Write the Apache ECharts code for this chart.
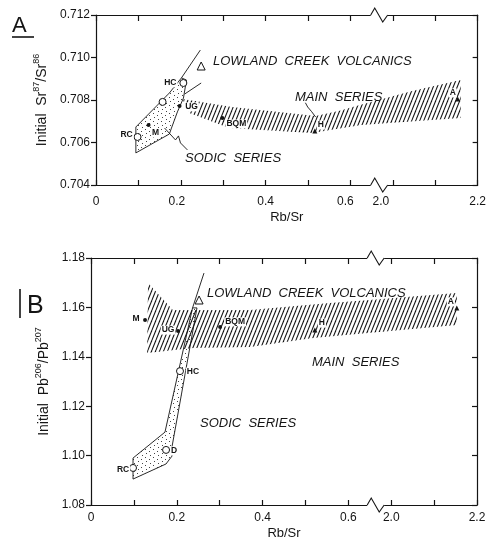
<!DOCTYPE html>
<html>
<head>
<meta charset="utf-8">
<script src="https://cdn.jsdelivr.net/npm/echarts@6/dist/echarts.min.js"></script>
<style>
html, body { margin: 0; padding: 0; background: #fff; }
#main { width: 489px; height: 545px; }
</style>
</head>
<body>
<div id="main"></div>
<script>
// ---- data (x = Rb/Sr, y = initial isotope ratio) ----
// x axis is broken between 0.65 and 2.0
var xLabelValues = [0, 0.2, 0.4, 0.6, 2.0, 2.2];

// panel A : Sr87/Sr86
var openNamesA = ['RC', '', 'HC'];
var openPtsA = [[0.098, 0.70626], [0.157, 0.70791], [0.206, 0.70880]];
var dotNamesA = ['M', 'UG', 'BQM'];
var dotPtsA = [[0.124, 0.70682], [0.197, 0.70772], [0.298, 0.70715]];
var triNamesA = ['H', 'A'];
var triPtsA = [[0.516, 0.70654], [2.153, 0.70805]];
var lcvPtA = [[0.248, 0.70960]];
var sodicA = [[0.094, 0.70551], [0.094, 0.70673], [0.173, 0.70833], [0.2015, 0.70904], [0.2133, 0.70894],
              [0.2062, 0.70809], [0.192, 0.70744], [0.178, 0.70668], [0.173, 0.70640]];
var sodicArmLongA = [[0.2015, 0.70904], [0.246, 0.71035]];
var sodicArmShortA = [[0.209, 0.70828], [0.248, 0.70880]];
var mainUpperA = [[0.204, 0.70805], [0.321, 0.70767], [0.431, 0.70744], [0.518, 0.70725], [0.572, 0.70748],
                  [0.62, 0.70775], [2.05, 0.70845], [2.16, 0.70894]];
var mainLowerA = [[2.16, 0.70715], [2.05, 0.70700], [0.626, 0.70682], [0.509, 0.70645], [0.431, 0.70654],
                  [0.314, 0.70668], [0.22, 0.70739]];
var sodicLeadA = [[0.1617, 0.70668], [0.1875, 0.70612], [0.1945, 0.70631], [0.1992, 0.70598], [0.2156, 0.70565]];
var mainLeadA = [[0.4938, 0.70787], [0.4992, 0.70767], [0.5039, 0.70768], [0.5086, 0.70745], [0.5179, 0.70720]];

// panel B : Pb206/Pb207
var openNamesB = ['RC', 'D', 'HC'];
var openPtsB = [[0.098, 1.0950], [0.175, 1.1023], [0.2075, 1.1342]];
var dotNamesB = ['M', 'UG', 'BQM'];
var dotPtsB = [[0.126, 1.1549], [0.203, 1.1504], [0.301, 1.1521]];
var triNamesB = ['H', 'A'];
var triPtsB = [[0.522, 1.1508], [2.153, 1.1598]];
var lcvPtB = [[0.252, 1.1630]];
var sodicB = [[0.098, 1.0905], [0.098, 1.0990], [0.1725, 1.1095], [0.2368, 1.1598], [0.2471, 1.1598],
              [0.1888, 1.1035], [0.1888, 1.0998], [0.1748, 1.0966]];
var sodicArmB = [[0.2368, 1.1598], [0.2634, 1.1739]];
var mainUpperB = [[0.133, 1.1699], [0.191, 1.1589], [0.371, 1.1589], [0.557, 1.1618], [0.62, 1.1626],
                  [2.05, 1.1644], [2.153, 1.1658]];
var mainLowerB = [[2.153, 1.1529], [2.05, 1.1513], [0.62, 1.1492], [0.518, 1.1476], [0.371, 1.1440],
                  [0.238, 1.1436], [0.131, 1.1415]];

// ---- styling / layout ----
var FONT = "'Liberation Sans', Arial, sans-serif";
var INK = '#141414';
var X_MAX = 0.9;
var gridA = {left: 96, top: 15, width: 384, height: 170};
var gridB = {left: 91, top: 258, width: 386, height: 247};

var labelShiftA = {RC: [-11, -2], HC: [-13, 0], M: [7, 8], UG: [12, 1], BQM: [14, 6], H: [6, -6], A: [-5, -6]};
var labelShiftB = {RC: [-10, 2], D: [8, 1], HC: [13, 1], M: [-9, -1], UG: [-10, -1], BQM: [15, -5], H: [7, -7], A: [-6, -6]};
var xLabelNudgeA = {'0.2': -4, '0.6': -5, '2.0': -12};

// break: 0..0.65 linear, 0.65..2.0 squeezed, 2.0.. shifted
function toAxis(x) {
	if (x <= 0.65) return x;
	if (x >= 2.0) return x - 1.3;
	return 0.65 + (x - 0.65) / 1.35 * 0.05;
}
function fromAxis(u) {
	if (u <= 0.65) return u;
	if (u >= 0.7) return u + 1.3;
	return 0.65 + (u - 0.65) / 0.05 * 1.35;
}

function makeHatch() {
	var c = document.createElement('canvas');
	c.width = 4; c.height = 10;
	var g = c.getContext('2d');
	g.strokeStyle = '#111';
	g.lineWidth = 1.05;
	for (var k = -1; k <= 1; k++) {
		g.beginPath();
		g.moveTo(k * 4, 10);
		g.lineTo(k * 4 + 4, 0);
		g.stroke();
	}
	return c;
}
function makeStipple() {
	var c = document.createElement('canvas');
	c.width = 8; c.height = 8;
	var g = c.getContext('2d');
	g.fillStyle = '#444';
	var dots = [[1, 1], [5, 3], [2, 5], [6, 7]];
	for (var i = 0; i < dots.length; i++) g.fillRect(dots[i][0], dots[i][1], 1, 1);
	return c;
}
var hatchFill = {image: makeHatch(), repeat: 'repeat'};
var stippleFill = {image: makeStipple(), repeat: 'repeat'};

function xLabelFormatter(nudge) {
	return function (u) {
		var r = fromAxis(u);
		for (var i = 0; i < xLabelValues.length; i++) {
			if (Math.abs(r - xLabelValues[i]) < 1e-6) {
				var t = xLabelValues[i] === 0 ? '0' : xLabelValues[i].toFixed(1);
				if (nudge && nudge[t]) {
					return '{n' + (-nudge[t]) + '|' + t + '}';
				}
				return t;
			}
		}
		return '';
	};
}
function nudgeRich(nudge) {
	var rich = {};
	for (var k in nudge) {
		var s = -nudge[k];
		rich['n' + s] = {padding: [0, 2 * s, 0, 0], fontSize: 12, fontFamily: FONT, color: INK};
	}
	return rich;
}

function bottomX(gi, labelMargin, nameGap, nudge) {
	return {
		gridIndex: gi, type: 'value', min: 0, max: X_MAX, interval: 0.1, position: 'bottom',
		axisLine: {onZero: false, lineStyle: {color: INK, width: 1.2}},
		axisTick: {inside: true, length: 5, lineStyle: {color: INK, width: 1.2}},
		axisLabel: {formatter: xLabelFormatter(nudge), fontSize: 12, fontFamily: FONT, color: INK,
			margin: labelMargin, showMinLabel: true, showMaxLabel: true, rich: nudgeRich(nudge || {})},
		splitLine: {show: false},
		name: 'Rb/Sr', nameLocation: 'middle', nameGap: nameGap,
		nameTextStyle: {fontSize: 13, fontFamily: FONT, color: INK}
	};
}
function topX(gi) {
	return {
		gridIndex: gi, type: 'value', min: 0, max: X_MAX, interval: 0.1, position: 'top',
		axisLine: {onZero: false, lineStyle: {color: INK, width: 1.2}},
		axisTick: {inside: true, length: 6, lineStyle: {color: INK, width: 1.2}},
		axisLabel: {show: false}, splitLine: {show: false}
	};
}
function leftY(gi, min, max, step, digits, name, gap) {
	return {
		gridIndex: gi, type: 'value', min: min, max: max, interval: step, position: 'left',
		axisLine: {onZero: false, lineStyle: {color: INK, width: 1.2}},
		axisTick: {inside: false, length: 5, lineStyle: {color: INK, width: 1.2}},
		axisLabel: {formatter: function (v) { return v.toFixed(digits); }, fontSize: 12, fontFamily: FONT,
			color: INK, margin: 6},
		splitLine: {show: false},
		name: name, nameLocation: 'middle', nameGap: gap,
		nameTextStyle: {color: INK, fontFamily: FONT, rich: {
			a: {fontSize: 14, lineHeight: 17, verticalAlign: 'bottom', fontFamily: FONT, color: INK},
			s: {fontSize: 9, lineHeight: 10, verticalAlign: 'top', fontFamily: FONT, color: INK}
		}}
	};
}
function rightY(gi, min, max, step) {
	return {
		gridIndex: gi, type: 'value', min: min, max: max, interval: step, position: 'right',
		axisLine: {onZero: false, lineStyle: {color: INK, width: 1.2}},
		axisTick: {inside: true, length: 5, lineStyle: {color: INK, width: 1.2}},
		axisLabel: {show: false}, splitLine: {show: false}
	};
}

function polySeries(gi, pts, fill, stroke, z) {
	return {
		type: 'custom', xAxisIndex: gi * 2, yAxisIndex: gi * 2, data: [[0, 0]], silent: true, z: z,
		renderItem: function (params, api) {
			return {
				type: 'polygon',
				shape: {points: pts.map(function (p) { return api.coord([toAxis(p[0]), p[1]]); })},
				style: {fill: fill, stroke: stroke, lineWidth: 0.9}
			};
		}
	};
}
function lineSeries(gi, pts) {
	return {
		type: 'line', xAxisIndex: gi * 2, yAxisIndex: gi * 2, symbol: 'none', silent: true, z: 4,
		lineStyle: {color: INK, width: 0.9},
		data: pts.map(function (p) { return [toAxis(p[0]), p[1]]; })
	};
}
function pointSeries(gi, pts, names, shifts, symbol, size, fill, stroke) {
	return {
		type: 'scatter', xAxisIndex: gi * 2, yAxisIndex: gi * 2, symbol: symbol, symbolSize: size,
		silent: true, z: 6,
		itemStyle: {color: fill, borderColor: stroke, borderWidth: stroke ? 1 : 0, opacity: 1},
		label: {show: true, position: 'inside', formatter: '{b}', fontSize: 8.5, fontWeight: 'bold',
			fontFamily: FONT, color: INK, backgroundColor: '#fff', padding: [0, 1]},
		data: pts.map(function (p, i) {
			var nm = names ? names[i] : '';
			return {value: [toAxis(p[0]), p[1]], name: nm, label: {offset: shifts[nm] || [0, 0]}};
		})
	};
}

function breakMark(g, u, yPix) {
	var cx = g.left + u / X_MAX * g.width;
	return [
		{type: 'rect', z: 100, shape: {x: cx - 9, y: yPix - 2, width: 17, height: 4}, style: {fill: '#fff'}},
		{type: 'polyline', z: 101, shape: {points: [[cx - 9, yPix], [cx - 5, yPix - 7], [cx + 3, yPix + 7], [cx + 8, yPix]]},
			style: {stroke: INK, lineWidth: 1.1, fill: null}}
	];
}
function seriesText(x, y, text) {
	return {type: 'text', x: x, y: y, z: 50,
		style: {text: text, font: 'italic 13px ' + FONT, fill: INK, verticalAlign: 'middle'}};
}

var graphics = [].concat(
	breakMark(gridA, 0.665, gridA.top),
	breakMark(gridA, 0.665, gridA.top + gridA.height),
	breakMark(gridB, 0.665, gridB.top),
	breakMark(gridB, 0.665, gridB.top + gridB.height),
	[
		{type: 'text', x: 12, y: 15, style: {text: 'A', font: '22px ' + FONT, fill: INK, verticalAlign: 'top'}},
		{type: 'line', shape: {x1: 12, y1: 37, x2: 34, y2: 37}, style: {stroke: INK, lineWidth: 1.6}},
		{type: 'text', x: 27, y: 294, style: {text: 'B', font: '25px ' + FONT, fill: INK, verticalAlign: 'top'}},
		{type: 'line', shape: {x1: 20, y1: 289, x2: 20, y2: 318}, style: {stroke: INK, lineWidth: 1.6}},
		seriesText(213, 61, 'LOWLAND  CREEK  VOLCANICS'),
		seriesText(295, 97, 'MAIN  SERIES'),
		seriesText(185, 158, 'SODIC  SERIES'),
		seriesText(207, 293, 'LOWLAND  CREEK  VOLCANICS'),
		seriesText(312, 362, 'MAIN  SERIES'),
		seriesText(200, 423, 'SODIC  SERIES')
	]
);

var chart = echarts.init(document.getElementById('main'), null, {renderer: 'canvas'});
chart.setOption({
	animation: false,
	backgroundColor: '#fff',
	grid: [
		{left: gridA.left, top: gridA.top, width: gridA.width, height: gridA.height},
		{left: gridB.left, top: gridB.top, width: gridB.width, height: gridB.height}
	],
	xAxis: [bottomX(0, 11, 26, xLabelNudgeA), topX(0), bottomX(1, 7, 22, null), topX(1)],
	yAxis: [
		leftY(0, 0.704, 0.712, 0.002, 3, '{a|Initial  Sr}{s|87}{a|/Sr}{s|86}', 34),
		rightY(0, 0.704, 0.712, 0.002),
		leftY(1, 1.08, 1.18, 0.02, 2, '{a|Initial  Pb}{s|206}{a|/Pb}{s|207}', 31),
		rightY(1, 1.08, 1.18, 0.02)
	],
	series: [
		polySeries(0, mainUpperA.concat(mainLowerA), hatchFill, null, 1),
		polySeries(0, sodicA, stippleFill, INK, 2),
		lineSeries(0, sodicArmLongA),
		lineSeries(0, sodicArmShortA),
		lineSeries(0, sodicLeadA),
		lineSeries(0, mainLeadA),
		pointSeries(0, openPtsA, openNamesA, labelShiftA, 'circle', 7, '#fff', INK),
		pointSeries(0, dotPtsA, dotNamesA, labelShiftA, 'circle', 4, INK, null),
		pointSeries(0, triPtsA, triNamesA, labelShiftA, 'triangle', 5, INK, null),
		pointSeries(0, lcvPtA, null, labelShiftA, 'triangle', 8, '#fff', INK),

		polySeries(1, mainUpperB.concat(mainLowerB), hatchFill, null, 1),
		polySeries(1, sodicB, stippleFill, INK, 2),
		lineSeries(1, sodicArmB),
		pointSeries(1, openPtsB, openNamesB, labelShiftB, 'circle', 7, '#fff', INK),
		pointSeries(1, dotPtsB, dotNamesB, labelShiftB, 'circle', 4, INK, null),
		pointSeries(1, triPtsB, triNamesB, labelShiftB, 'triangle', 5, INK, null),
		pointSeries(1, lcvPtB, null, labelShiftB, 'triangle', 8, '#fff', INK)
	],
	graphic: graphics
});
</script>
</body>
</html>
